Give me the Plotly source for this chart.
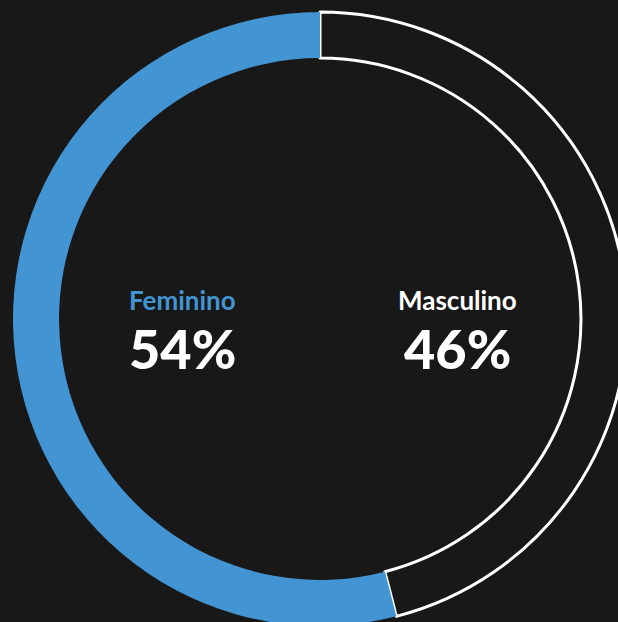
import plotly.graph_objects as go

labels = ["Masculino", "Feminino"]
values = [46, 54]
colors = ["#181818", "#4394d3"]
line_colors = ["#ffffff", "#4394d3"]
line_widths = [3, 0]
label_colors = ["#ffffff", "#4394d3"]
label_x = [457, 182]

W, H = 640, 640
cx, cy, R = 320, 319, 307

fig = go.Figure(go.Pie(
    labels=labels,
    values=values,
    hole=0.85,
    sort=False,
    direction="clockwise",
    rotation=0,
    marker=dict(colors=colors, line=dict(color=line_colors, width=line_widths)),
    textinfo="none",
    hoverinfo="label+percent",
    showlegend=False,
    domain=dict(x=[(cx - R) / W, (cx + R) / W], y=[(H - cy - R) / H, (H - cy + R) / H]),
))

for i, lab in enumerate(labels):
    fig.add_annotation(x=label_x[i] / W, y=1 - 300 / H, xref="paper", yref="paper",
                       xanchor="center", yanchor="middle",
                       text=lab, showarrow=False,
                       font=dict(family="Lato", size=26, weight=700, color=label_colors[i]))
    fig.add_annotation(x=label_x[i] / W, y=1 - 348 / H, xref="paper", yref="paper",
                       xanchor="center", yanchor="middle",
                       text=f"{values[i]}%", showarrow=False,
                       font=dict(family="Lato", size=54, weight=900, color="#ffffff"))

fig.update_layout(
    width=W, height=H,
    margin=dict(l=0, r=0, t=0, b=0),
    paper_bgcolor="#181818",
    plot_bgcolor="#181818",
)

fig.write_html(
    "out.html",
    config={"displayModeBar": False},
    post_script="document.body.style.margin='0';document.body.style.background='#181818';document.body.style.overflow='hidden';",
)
